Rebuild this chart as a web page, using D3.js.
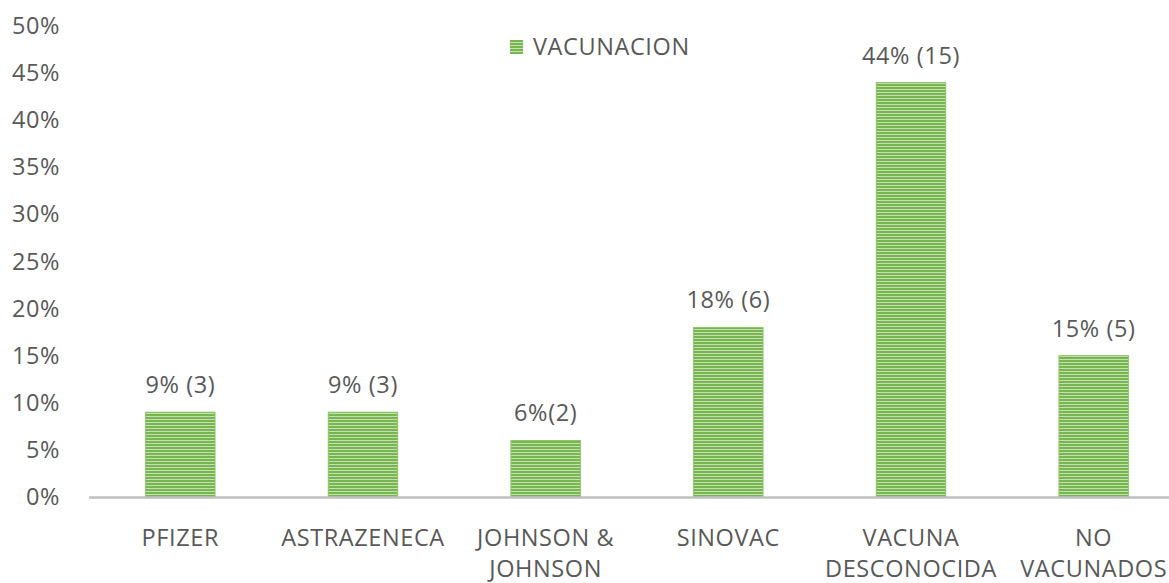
<!DOCTYPE html>
<html>
<head>
<meta charset="utf-8">
<script src="https://cdn.jsdelivr.net/npm/d3@7"></script>
<style>
  body { margin: 0; background: #fff; }
  svg text { font-family: "Open Sans", "Liberation Sans", sans-serif; fill: #595959; letter-spacing: 0.6px; }
</style>
</head>
<body>
<svg id="chart" width="1169" height="583"></svg>
<script>
// data
const categories = [['PFIZER'], ['ASTRAZENECA'], ['JOHNSON &', 'JOHNSON'], ['SINOVAC'], ['VACUNA', 'DESCONOCIDA'], ['NO', 'VACUNADOS']];
const values = [9, 9, 6, 18, 44, 15];
const barLabels = ['9% (3)', '9% (3)', '6%(2)', '18% (6)', '44% (15)', '15% (5)'];
const yTicks = [0, 5, 10, 15, 20, 25, 30, 35, 40, 45, 50];
const seriesName = 'VACUNACION';

const svg = d3.select('#chart');
const margin = { left: 89, top: 26 };
const plotW = 1096;
const plotH = 471;
const fontSize = '23.5px';

const x = d3.scaleBand()
  .domain(d3.range(categories.length))
  .range([margin.left, margin.left + plotW])
  .paddingInner(0.62)
  .paddingOuter(0.31);

const y = d3.scaleLinear()
  .domain([0, 50])
  .range([margin.top + plotH, margin.top]);

// striped fill
const defs = svg.append('defs');
const pat = defs.append('pattern')
  .attr('id', 'stripes')
  .attr('patternUnits', 'userSpaceOnUse')
  .attr('width', 8)
  .attr('height', 3);
pat.append('rect').attr('width', 8).attr('height', 3).attr('fill', '#c4dfb1');
pat.append('rect').attr('width', 8).attr('height', 2).attr('fill', '#77b64f');

// y axis labels (no line)
const yAxis = svg.append('g')
  .attr('transform', `translate(${margin.left}, 0)`)
  .call(d3.axisLeft(y).tickValues(yTicks).tickFormat(d => d + '%').tickSize(0).tickPadding(29));
yAxis.select('.domain').remove();
yAxis.selectAll('text')
  .style('font-size', fontSize)
  .attr('fill', '#595959');

// bars
svg.append('g')
  .selectAll('rect')
  .data(values)
  .join('rect')
  .attr('x', (d, i) => x(i))
  .attr('y', d => y(d))
  .attr('width', x.bandwidth())
  .attr('height', d => y(0) - y(d))
  .attr('fill', 'url(#stripes)')
  .attr('stroke', '#8cc466')
  .attr('stroke-width', 1);

// baseline
svg.append('line')
  .attr('x1', margin.left)
  .attr('x2', 1169)
  .attr('y1', y(0) + 0.5)
  .attr('y2', y(0) + 0.5)
  .attr('stroke', '#bfbfbf')
  .attr('stroke-width', 2.5);

// value labels
svg.append('g')
  .selectAll('text')
  .data(values)
  .join('text')
  .attr('x', (d, i) => x(i) + x.bandwidth() / 2)
  .attr('y', d => y(d) - 19)
  .attr('text-anchor', 'middle')
  .style('font-size', fontSize)
  .text((d, i) => barLabels[i]);

// category labels
const cat = svg.append('g')
  .selectAll('text')
  .data(categories)
  .join('text')
  .attr('x', (d, i) => x(i) + x.bandwidth() / 2)
  .attr('y', 546)
  .attr('text-anchor', 'middle')
  .style('font-size', fontSize);
cat.selectAll('tspan')
  .data(d => d)
  .join('tspan')
  .attr('x', function () { return d3.select(this.parentNode).attr('x'); })
  .attr('dy', (d, i) => i === 0 ? 0 : 31)
  .text(d => d);

// legend
const legend = svg.append('g').attr('transform', 'translate(510, 40)');
legend.append('rect')
  .attr('width', 13)
  .attr('height', 14)
  .attr('fill', 'url(#stripes)');
legend.append('text')
  .attr('x', 23)
  .attr('y', 15)
  .style('font-size', fontSize)
  .text(seriesName);
</script>
</body>
</html>
